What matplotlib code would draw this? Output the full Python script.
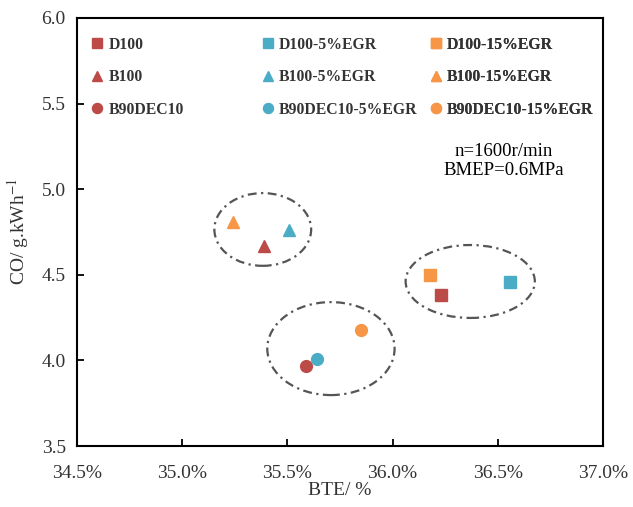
import matplotlib.pyplot as plt
from matplotlib.patches import Ellipse

plt.rcParams["font.family"] = ["Liberation Serif", "DejaVu Serif"]
plt.rcParams["mathtext.fontset"] = "stix"

# BTE (%) and CO (g/kWh) for each fuel / EGR case
labels = ["D100", "B100", "B90DEC10",
          "D100-5%EGR", "B100-5%EGR", "B90DEC10-5%EGR",
          "D100-15%EGR", "B100-15%EGR", "B90DEC10-15%EGR"]
bte = [36.23, 35.39, 35.59,
       36.56, 35.51, 35.64,
       36.18, 35.24, 35.85]
co = [4.38, 4.67, 3.97,
      4.46, 4.76, 4.01,
      4.50, 4.81, 4.18]
markers = ["s", "^", "o"] * 3
colors = ["#BC4B48"] * 3 + ["#4BACC6"] * 3 + ["#F79646"] * 3

# dash-dot groupings: (centre x, centre y, width, height)
groups = [(35.383, 4.765, 0.46, 0.425),
          (36.369, 4.461, 0.614, 0.426),
          (35.707, 4.069, 0.605, 0.543)]

fig = plt.figure(figsize=(6.33, 5.07), dpi=100)
ax = fig.add_axes([0.1216, 0.1203, 0.831, 0.8442])

handles = []
for i in range(len(labels)):
    h, = ax.plot(bte[i], co[i],
                 marker=markers[i],
                 linestyle="none",
                 markersize=8.5,
                 color=colors[i],
                 label=labels[i])
    handles.append(h)

for cx, cy, w, h in groups:
    ax.add_patch(Ellipse((cx, cy), w, h,
                         fill=False,
                         edgecolor="#555555",
                         linewidth=1.6,
                         linestyle=(0, (4, 2, 1, 2))))

ax.set_xlim(34.5, 37.0)
ax.set_ylim(3.5, 6.0)
ax.set_xticks([34.5, 35.0, 35.5, 36.0, 36.5, 37.0])
ax.set_xticklabels(["34.5%", "35.0%", "35.5%", "36.0%", "36.5%", "37.0%"])
ax.set_yticks([3.5, 4.0, 4.5, 5.0, 5.5, 6.0])
ax.set_yticklabels(["3.5", "4.0", "4.5", "5.0", "5.5", "6.0"])
ax.tick_params(direction="in", length=5, width=1.3, labelsize=14,
               colors="black", labelcolor="#333333")
ax.tick_params(axis="x", pad=14)
ax.tick_params(axis="y", pad=8)
for s in ax.spines.values():
    s.set_linewidth(1.5)

ax.set_xlabel("BTE/ %", fontsize=14, color="#333333", labelpad=0)
ax.set_ylabel("CO/ g.kWh$^{-1}$", fontsize=14, color="#333333", labelpad=8)

ax.text(36.53, 5.165, "n=1600r/min\nBMEP=0.6MPa",
        ha="center", va="center", fontsize=13.5, linespacing=1.1)

# one legend per EGR level so the columns sit at fixed spacing
col_x = [0.030, 0.354, 0.673]
for c in range(3):
    leg = ax.legend(handles=handles[3 * c:3 * c + 3],
                    loc="upper left", bbox_to_anchor=(col_x[c], 0.956),
                    frameon=False, fontsize=11.3, markerscale=0.85,
                    handlelength=0.6, handletextpad=0.4,
                    labelspacing=1.05, borderpad=0, borderaxespad=0)
    for t in leg.get_texts():
        t.set_fontweight("bold")
        t.set_color("#333333")
    ax.add_artist(leg)

plt.savefig("out.png", dpi=100)
